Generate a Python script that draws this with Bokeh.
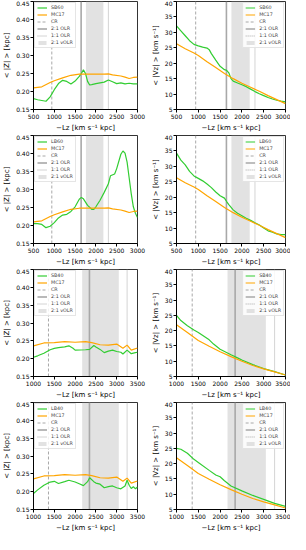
from bokeh.plotting import figure
from bokeh.layouts import column, row
from bokeh.models import FixedTicker, NumeralTickFormatter, Legend, LegendItem, Range1d
from bokeh.core.properties import value
from bokeh.embed import file_html
from bokeh.resources import INLINE

# ---------------- data ----------------
x_ticks_60 = [500, 1000, 1500, 2000, 2500, 3000]
x_ticks_40 = [1000, 1500, 2000, 2500, 3000, 3500]
z_ticks = [0.15, 0.20, 0.25, 0.30, 0.35, 0.40, 0.45]
v_ticks = [5, 10, 15, 20, 25, 30, 35, 40]

# resonances (-Lz, kpc km/s)
res60 = {"CR": 940, "OLR21": 1645, "vOLR": (1760, 2180), "OLR11": 2300}
res40 = {"CR": 1360, "OLR21": 2345, "vOLR": (2170, 3050), "OLR11": 3250}

# <|Z|>
sb60_z_x = [500, 600, 700, 800, 900, 1000, 1100, 1200, 1300, 1400, 1500, 1600, 1650, 1700, 1750,
            1800, 1850, 1900, 2000, 2100, 2200, 2300, 2400, 2500, 2600, 2700, 2800, 2900, 3000]
sb60_z_y = [0.180, 0.177, 0.175, 0.173, 0.185, 0.205, 0.222, 0.231, 0.228, 0.221, 0.229, 0.242, 0.250, 0.260, 0.250,
            0.228, 0.218, 0.219, 0.222, 0.224, 0.226, 0.232, 0.227, 0.222, 0.224, 0.221, 0.223, 0.221, 0.221]

mc60_z_x = [500, 700, 900, 1000, 1200, 1400, 1600, 1800, 2000, 2200, 2300, 2400, 2600, 2700, 2800, 2900, 3000]
mc60_z_y = [0.210, 0.213, 0.225, 0.230, 0.238, 0.245, 0.248, 0.248, 0.248, 0.248, 0.249, 0.246, 0.243, 0.240, 0.236, 0.239, 0.240]

lb60_z_x = [500, 600, 700, 800, 900, 1000, 1100, 1200, 1300, 1400, 1500, 1600, 1650, 1700, 1800, 1900, 1950,
            2000, 2100, 2200, 2300, 2350, 2450, 2500, 2600, 2650, 2700, 2750, 2800, 2850, 2900, 2950, 3000]
lb60_z_y = [0.205, 0.205, 0.203, 0.194, 0.198, 0.208, 0.221, 0.229, 0.231, 0.239, 0.252, 0.273, 0.278, 0.274,
            0.256, 0.245, 0.245, 0.252, 0.270, 0.292, 0.316, 0.338, 0.343, 0.358, 0.398, 0.407, 0.401, 0.376,
            0.332, 0.288, 0.252, 0.234, 0.222]

sb40_z_x = [1000, 1100, 1250, 1400, 1500, 1600, 1750, 1850, 1950, 2000, 2250, 2350, 2450, 2500, 2600, 2700,
            2800, 2900, 3000, 3100, 3150, 3250, 3350, 3450, 3500]
sb40_z_y = [0.204, 0.208, 0.215, 0.225, 0.229, 0.231, 0.233, 0.236, 0.229, 0.224, 0.225, 0.226, 0.237, 0.233,
            0.226, 0.217, 0.221, 0.224, 0.220, 0.218, 0.213, 0.224, 0.214, 0.217, 0.218]

mc40_z_x = [1000, 1250, 1500, 1750, 2000, 2250, 2400, 2600, 2800, 3000, 3150, 3250, 3350, 3500]
mc40_z_y = [0.236, 0.244, 0.245, 0.248, 0.246, 0.248, 0.245, 0.239, 0.238, 0.241, 0.229, 0.238, 0.224, 0.230]

lb40_z_x = [1000, 1100, 1250, 1400, 1500, 1600, 1750, 1850, 2000, 2100, 2200, 2300, 2350, 2450, 2500, 2600,
            2700, 2800, 2900, 3000, 3100, 3200, 3250, 3300, 3350, 3400, 3450, 3500]
lb40_z_y = [0.195, 0.205, 0.218, 0.227, 0.229, 0.223, 0.228, 0.232, 0.227, 0.222, 0.217, 0.228, 0.239, 0.228,
            0.224, 0.221, 0.211, 0.214, 0.216, 0.211, 0.208, 0.216, 0.232, 0.218, 0.209, 0.214, 0.208, 0.213]

# <|Vz|>
sb60_v_x = [500, 600, 700, 800, 900, 1000, 1100, 1200, 1250, 1300, 1400, 1500, 1600, 1650, 1700, 1750, 1800,
            1900, 2000, 2100, 2200, 2300, 2400, 2500, 2600, 2700, 2800, 2900, 3000]
sb60_v_y = [32.1, 30.5, 28.9, 27.3, 26.1, 25.6, 25.2, 24.9, 24.4, 23.1, 21.0, 19.0, 17.9, 17.7, 16.9, 15.0, 14.2,
            13.6, 13.0, 12.4, 11.6, 10.8, 10.1, 9.5, 8.9, 8.4, 8.0, 7.7, 7.5]

mc60_v_x = [500, 700, 900, 1000, 1200, 1400, 1600, 1800, 2000, 2200, 2400, 2600, 2800, 3000]
mc60_v_y = [26.3, 24.7, 23.3, 22.5, 20.5, 18.6, 16.7, 15.0, 13.5, 12.2, 10.9, 9.5, 8.2, 6.9]

lb60_v_x = [500, 600, 700, 800, 900, 1000, 1100, 1200, 1300, 1400, 1500, 1600, 1650, 1700, 1800, 1900, 2000,
            2100, 2200, 2300, 2400, 2500, 2600, 2700, 2800, 2900, 3000]
lb60_v_y = [34.3, 32.0, 30.5, 28.4, 26.9, 26.1, 25.3, 24.3, 23.1, 21.7, 20.5, 19.7, 18.6, 17.6, 15.9, 14.8, 14.0,
            13.2, 12.5, 11.7, 11.0, 10.0, 9.1, 8.7, 8.1, 7.9, 7.9]

sb40_v_x = [1000, 1100, 1250, 1400, 1500, 1750, 1850, 2000, 2250, 2400, 2500, 2750, 3000, 3250, 3500]
sb40_v_y = [25.0, 23.3, 21.6, 20.2, 19.4, 17.0, 15.6, 13.9, 12.1, 11.1, 10.4, 8.9, 7.6, 6.6, 5.5]

mc40_v_x = [1000, 1250, 1500, 1750, 2000, 2250, 2500, 2750, 3000, 3250, 3500]
mc40_v_y = [21.9, 19.4, 16.8, 14.9, 13.1, 11.5, 10.0, 8.6, 7.5, 6.5, 5.5]

lb40_v_x = [1000, 1100, 1250, 1400, 1500, 1750, 1900, 2000, 2100, 2250, 2500, 2750, 3000, 3250, 3500]
lb40_v_y = [25.0, 24.7, 23.4, 21.4, 20.4, 17.8, 16.3, 15.7, 14.4, 12.7, 11.1, 9.6, 8.3, 7.0, 6.0]

GREEN = "#32CD32"
ORANGE = "#FFA500"
GREY = "#a8a8a8"
FONT = "DejaVu Sans"


def make(kind, model, gx, gy, mx, my, xticks, res, left_col, height):
    xr = Range1d(xticks[0], xticks[-1])
    if kind == "z":
        yt = z_ticks
        ylabel = "< |Z| > [kpc]"
    else:
        yt = v_ticks
        ylabel = "< |Vz| > [km s⁻¹]"
    yr = Range1d(yt[0], yt[-1])
    ylo, yhi = yt[0], yt[-1]
    w = 148 if left_col else 142
    p = figure(width=w, height=height, x_range=xr, y_range=yr, output_backend="svg",
               toolbar_location=None, min_border_left=25 if left_col else 22,
               min_border_right=11 if left_col else 5, min_border_top=1,
               min_border_bottom=height - 111)
    p.grid.visible = False
    p.outline_line_color = "black"
    p.outline_line_width = 0.8
    p.background_fill_color = "white"
    p.border_fill_color = "white"

    strip = p.quad(left=[res["vOLR"][0]], right=[res["vOLR"][1]], bottom=[ylo], top=[yhi],
                   fill_color="#d3d3d3", fill_alpha=0.65, line_color=None)
    cr = p.segment(x0=[res["CR"]], y0=[ylo], x1=[res["CR"]], y1=[yhi],
                   line_color=GREY, line_dash=value("3 2"), line_width=1)
    olr = p.segment(x0=[res["OLR21"]], y0=[ylo], x1=[res["OLR21"]], y1=[yhi],
                    line_color=GREY, line_width=1.6)
    olr11 = p.segment(x0=[res["OLR11"]], y0=[ylo], x1=[res["OLR11"]], y1=[yhi],
                      line_color=GREY, line_dash=value("1 1.5"), line_width=1)
    g = p.line(gx, gy, line_color=GREEN, line_width=1.2)
    m = p.line(mx, my, line_color=ORANGE, line_width=1.2)

    items = [LegendItem(label=model, renderers=[g]),
             LegendItem(label="MC17", renderers=[m]),
             LegendItem(label="CR", renderers=[cr]),
             LegendItem(label="2:1 OLR", renderers=[olr]),
             LegendItem(label="1:1 OLR", renderers=[olr11]),
             LegendItem(label="2:1 vOLR", renderers=[strip])]
    leg = Legend(items=items, location="top_left" if left_col else "top_right",
                 label_text_font_size="4.8px", label_text_font=FONT, label_height=5,
                 glyph_height=5, glyph_width=10, spacing=2, padding=2, margin=1,
                 label_standoff=4, border_line_color="#cccccc", border_line_width=0.6,
                 background_fill_alpha=0.85)
    p.add_layout(leg)

    p.xaxis.ticker = FixedTicker(ticks=xticks)
    p.yaxis.ticker = FixedTicker(ticks=yt)
    if kind == "z":
        p.yaxis.formatter = NumeralTickFormatter(format="0.00")
    for ax in (p.xaxis, p.yaxis):
        ax.major_label_text_font_size = "6px"
        ax.major_label_text_font = FONT
        ax.axis_label_text_font_size = "7px"
        ax.axis_label_text_font = FONT
        ax.axis_label_text_font_style = "normal"
        ax.minor_tick_line_color = None
        ax.major_tick_out = 3
        ax.major_tick_in = 0
        ax.major_label_standoff = 1
        ax.axis_label_standoff = 2
        ax.axis_line_color = "black"
        ax.major_tick_line_color = "black"
        ax.major_label_text_color = "black"
        ax.axis_label_text_color = "black"
    p.xaxis.axis_label = "−Lz [km s⁻¹ kpc]"
    p.yaxis.axis_label = ylabel
    return p


heights = [134, 134, 133, 133]
p1 = make("z", "SB60", sb60_z_x, sb60_z_y, mc60_z_x, mc60_z_y, x_ticks_60, res60, True, heights[0])
p2 = make("v", "SB60", sb60_v_x, sb60_v_y, mc60_v_x, mc60_v_y, x_ticks_60, res60, False, heights[0])
p3 = make("z", "LB60", lb60_z_x, lb60_z_y, mc60_z_x, mc60_z_y, x_ticks_60, res60, True, heights[1])
p4 = make("v", "LB60", lb60_v_x, lb60_v_y, mc60_v_x, mc60_v_y, x_ticks_60, res60, False, heights[1])
p5 = make("z", "SB40", sb40_z_x, sb40_z_y, mc40_z_x, mc40_z_y, x_ticks_40, res40, True, heights[2])
p6 = make("v", "SB40", sb40_v_x, sb40_v_y, mc40_v_x, mc40_v_y, x_ticks_40, res40, False, heights[2])
p7 = make("z", "LB40", lb40_z_x, lb40_z_y, mc40_z_x, mc40_z_y, x_ticks_40, res40, True, heights[3])
p8 = make("v", "LB40", lb40_v_x, lb40_v_y, mc40_v_x, mc40_v_y, x_ticks_40, res40, False, heights[3])

layout = column(row(p1, p2), row(p3, p4), row(p5, p6), row(p7, p8))
open("out.html", "w").write(file_html(layout, INLINE))
